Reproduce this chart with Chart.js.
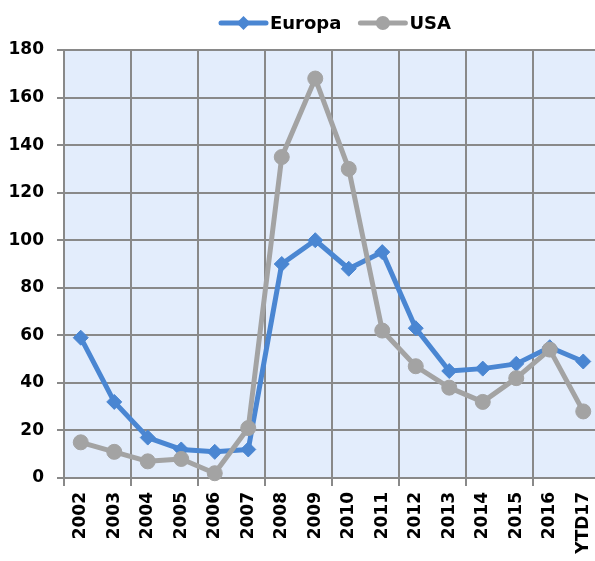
<!DOCTYPE html>
<html>
<head>
<meta charset="utf-8">
<script src="https://cdn.jsdelivr.net/npm/chart.js@4"></script>
<style>
  html, body { margin: 0; padding: 0; background: #fff; overflow: hidden; }
  #wrap { width: 601px; height: 561px; }
</style>
</head>
<body>
<div id="wrap"><canvas id="c" width="601" height="561"></canvas></div>
<script>
const categories = ['2002','2003','2004','2005','2006','2007','2008','2009','2010','2011','2012','2013','2014','2015','2016','YTD17'];
const europa = [59, 32, 17, 12, 11, 12, 90, 100, 88, 95, 63, 45, 46, 48, 55, 49];
const usa = [15, 11, 7, 8, 2, 21, 135, 168, 130, 62, 47, 38, 32, 42, 54, 28];
const seriesNames = ['Europa', 'USA'];
const yTicks = [0, 20, 40, 60, 80, 100, 120, 140, 160, 180];

const BLUE = '#4A86D2';
const GRAY = '#A3A3A3';
const GRID = '#898989';
const FONT = "'DejaVu Sans', sans-serif";

const plotBg = {
  id: 'plotBg',
  beforeDraw(chart) {
    const { ctx, chartArea: a } = chart;
    ctx.save();
    ctx.fillStyle = '#E3EDFC';
    ctx.fillRect(a.left, a.top, a.right - a.left, a.bottom - a.top);
    ctx.restore();
  }
};

const customLegend = {
  id: 'customLegend',
  afterDraw(chart) {
    const ctx = chart.ctx;
    const y = 23;
    let x = 221;
    ctx.save();
    ctx.font = 'bold 18px ' + FONT;
    ctx.textBaseline = 'middle';
    chart.data.datasets.forEach((ds) => {
      ctx.strokeStyle = ds.borderColor;
      ctx.lineWidth = 5;
      ctx.lineCap = 'round';
      ctx.beginPath();
      ctx.moveTo(x, y);
      ctx.lineTo(x + 45, y);
      ctx.stroke();
      ctx.fillStyle = ds.borderColor;
      ctx.beginPath();
      const cx = x + 22.5;
      if (ds.pointStyle === 'rectRot') {
        const r = 7;
        ctx.moveTo(cx, y - r); ctx.lineTo(cx + r, y); ctx.lineTo(cx, y + r); ctx.lineTo(cx - r, y);
        ctx.closePath();
      } else {
        ctx.arc(cx, y, 7, 0, Math.PI * 2);
      }
      ctx.fill();
      ctx.fillStyle = '#000';
      ctx.fillText(ds.label, x + 49, y + 1);
      x += 49 + ctx.measureText(ds.label).width + 19;
    });
    ctx.restore();
  }
};

new Chart(document.getElementById('c'), {
  type: 'line',
  data: {
    labels: categories,
    datasets: [
      {
        label: seriesNames[0],
        data: europa,
        borderColor: BLUE,
        backgroundColor: BLUE,
        borderWidth: 5,
        pointStyle: 'rectRot',
        pointRadius: 7.5,
        pointHoverRadius: 7.5,
        pointBorderWidth: 1,
        pointBorderColor: BLUE,
        pointBackgroundColor: BLUE,
        tension: 0,
        borderJoinStyle: 'round',
        borderCapStyle: 'round',
        clip: false,
        order: 2
      },
      {
        label: seriesNames[1],
        data: usa,
        borderColor: GRAY,
        backgroundColor: GRAY,
        borderWidth: 5,
        pointStyle: 'circle',
        pointRadius: 7.5,
        pointHoverRadius: 7.5,
        pointBorderWidth: 1,
        pointBorderColor: GRAY,
        pointBackgroundColor: GRAY,
        tension: 0,
        borderJoinStyle: 'round',
        borderCapStyle: 'round',
        clip: false,
        order: 1
      }
    ]
  },
  options: {
    responsive: false,
    animation: false,
    devicePixelRatio: 1,
    layout: { autoPadding: false, padding: { left: 0, right: 1, top: 50, bottom: 0 } },
    plugins: {
      legend: { display: false },
      tooltip: { enabled: false },
      title: { display: false }
    },
    scales: {
      x: {
        type: 'category',
        offset: true,
        grid: {
          offset: true,
          color: (c) => (c.index !== undefined && c.index % 2 === 0) ? GRID : 'rgba(0,0,0,0)',
          tickColor: (c) => (c.index !== undefined && c.index % 2 === 0) ? GRID : 'rgba(0,0,0,0)',
          lineWidth: 2,
          tickLength: 8,
          drawTicks: true
        },
        border: { display: true, color: GRID, width: 2 },
        ticks: {
          autoSkip: false,
          minRotation: 90,
          maxRotation: 90,
          padding: 6,
          color: '#000',
          font: { family: FONT, size: 17, weight: 'bold' }
        },
        afterFit(scale) {
          scale.height = 83;
          scale.paddingLeft = 0;
          scale.paddingRight = 0;
        }
      },
      y: {
        min: 0,
        max: 180,
        afterBuildTicks(scale) { scale.ticks = yTicks.map(v => ({ value: v })); },
        grid: {
          color: GRID,
          lineWidth: 2,
          tickLength: 7,
          drawTicks: true
        },
        border: { display: true, color: GRID, width: 2 },
        ticks: {
          padding: 13,
          color: '#000',
          font: { family: FONT, size: 17, weight: 'bold' }
        },
        afterFit(scale) { scale.width = 64; }
      }
    }
  },
  plugins: [plotBg, customLegend]
});
</script>
</body>
</html>
